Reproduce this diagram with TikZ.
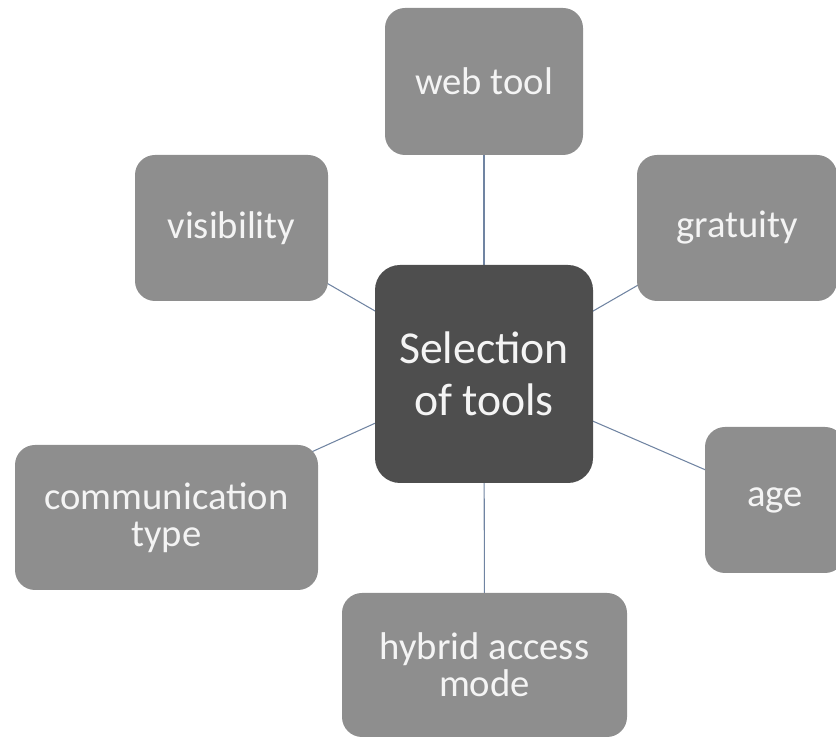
\documentclass[tikz,border=0pt]{standalone}
\usepackage{fontspec}
\setmainfont{Carlito}
\usetikzlibrary{positioning,backgrounds}
\definecolor{leafgray}{RGB}{142,142,142}
\definecolor{hubgray}{RGB}{78,78,78}
\definecolor{linkblue}{RGB}{112,132,162}
\definecolor{labelwhite}{RGB}{244,244,244}

\begin{document}
\begin{tikzpicture}[leaf/.style={fill=leafgray,rounded corners=0.4cm,text=labelwhite,align=center,inner sep=0pt,font=\fontsize{22}{21}\selectfont},
    hub/.style={fill=hubgray,rounded corners=0.5cm,text=labelwhite,align=center,inner sep=0pt,minimum width=4.36cm,minimum height=4.36cm,font=\fontsize{26}{29.5}\selectfont},
    link/.style={draw=linkblue,line width=0.6pt}]
    \useasboundingbox (0,0) rectangle (16.72,14.76);
    \clip (0,0) rectangle (16.72,14.76);

    \node[hub] (hub) at (9.68,7.28) {Selection\\ of tools};

    \node[leaf,minimum width=3.96cm,minimum height=2.94cm] (web) at (9.68,13.13) {web tool};
    \node[leaf,minimum width=3.86cm,minimum height=2.92cm] (visib) at (4.63,10.2) {visibility};
    \node[leaf,minimum width=4.0cm,minimum height=2.92cm] (grat) at (14.74,10.2) {gratuity};
    \node[leaf,minimum width=6.06cm,minimum height=2.9cm] (comm) at (3.33,4.41) {communication\\ type};
    \node[leaf,minimum width=2.8cm,minimum height=2.92cm] (age) at (15.5,4.76) {age};
    \node[leaf,minimum width=5.7cm,minimum height=2.88cm] (hybrid) at (9.69,1.46) {hybrid access\\ mode};

    \begin{scope}[on background layer]
    \draw[link] (hub.center) to (web.center);
    \draw[link] (hub.center) to (visib.center);
    \draw[link] (hub.center) to (grat.center);
    \draw[link] (hub.center) to (comm.center);
    \draw[link] (hub.center) to (age.center);
    \draw[link] (hub.center) to (hybrid.center);
    \end{scope}

  \end{tikzpicture}
\end{document}
